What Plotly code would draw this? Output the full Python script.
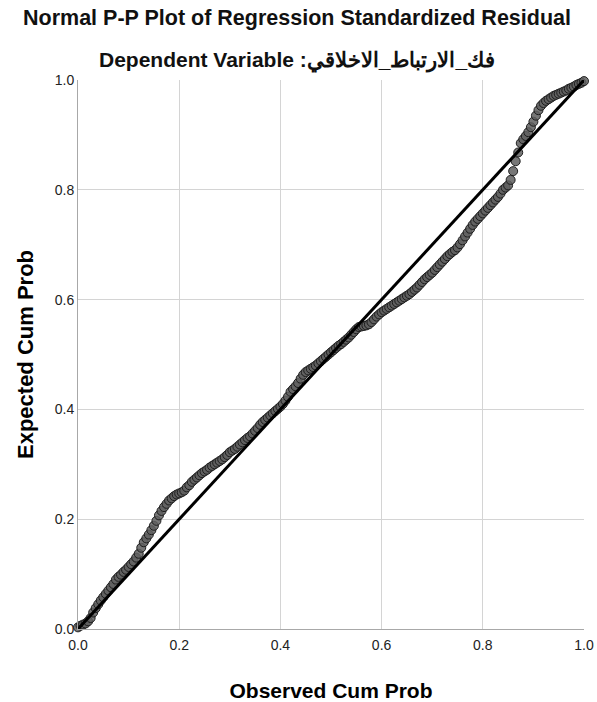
import plotly.graph_objects as go

observed_cum_prob = [
    0.000, 0.005, 0.010, 0.015, 0.020, 0.025, 0.030, 0.035, 0.040, 0.045,
    0.050, 0.055, 0.060, 0.065, 0.070, 0.075, 0.080, 0.085, 0.090, 0.095,
    0.100, 0.105, 0.110, 0.115, 0.120, 0.125, 0.130, 0.135, 0.140, 0.145,
    0.150, 0.155, 0.160, 0.165, 0.170, 0.175, 0.180, 0.185, 0.190, 0.195,
    0.200, 0.205, 0.210, 0.215, 0.220, 0.225, 0.230, 0.235, 0.240, 0.245,
    0.250, 0.255, 0.260, 0.265, 0.270, 0.275, 0.280, 0.285, 0.290, 0.295,
    0.300, 0.305, 0.310, 0.315, 0.320, 0.325, 0.330, 0.335, 0.340, 0.345,
    0.350, 0.355, 0.360, 0.365, 0.370, 0.375, 0.380, 0.385, 0.390, 0.395,
    0.400, 0.405, 0.410, 0.415, 0.420, 0.425, 0.430, 0.435, 0.440, 0.445,
    0.450, 0.455, 0.460, 0.465, 0.470, 0.475, 0.480, 0.485, 0.490, 0.495,
    0.500, 0.505, 0.510, 0.515, 0.520, 0.525, 0.530, 0.535, 0.540, 0.545,
    0.550, 0.555, 0.560, 0.565, 0.570, 0.575, 0.580, 0.585, 0.590, 0.595,
    0.600, 0.605, 0.610, 0.615, 0.620, 0.625, 0.630, 0.635, 0.640, 0.645,
    0.650, 0.655, 0.660, 0.665, 0.670, 0.675, 0.680, 0.685, 0.690, 0.695,
    0.700, 0.705, 0.710, 0.715, 0.720, 0.725, 0.730, 0.735, 0.740, 0.745,
    0.750, 0.755, 0.760, 0.765, 0.770, 0.775, 0.780, 0.785, 0.790, 0.795,
    0.800, 0.805, 0.810, 0.815, 0.820, 0.825, 0.830, 0.835, 0.840, 0.845,
    0.850, 0.855, 0.860, 0.865, 0.870, 0.875, 0.880, 0.885, 0.890, 0.895,
    0.900, 0.905, 0.910, 0.915, 0.920, 0.925, 0.930, 0.935, 0.940, 0.945,
    0.950, 0.955, 0.960, 0.965, 0.970, 0.975, 0.980, 0.985, 0.990, 0.995,
    1.000,
]

expected_cum_prob = [
    0.003, 0.006, 0.008, 0.010, 0.014, 0.020, 0.030, 0.038, 0.045, 0.052,
    0.058, 0.064, 0.070, 0.076, 0.082, 0.090, 0.095, 0.099, 0.104, 0.108,
    0.113, 0.118, 0.123, 0.130, 0.137, 0.148, 0.158, 0.165, 0.172, 0.180,
    0.188, 0.197, 0.207, 0.215, 0.222, 0.228, 0.234, 0.238, 0.242, 0.245,
    0.247, 0.249, 0.252, 0.258, 0.262, 0.268, 0.272, 0.276, 0.280, 0.284,
    0.287, 0.290, 0.294, 0.297, 0.300, 0.303, 0.306, 0.309, 0.313, 0.317,
    0.322, 0.325, 0.328, 0.332, 0.336, 0.340, 0.344, 0.348, 0.351, 0.356,
    0.361, 0.366, 0.372, 0.377, 0.381, 0.385, 0.389, 0.393, 0.397, 0.401,
    0.405, 0.410, 0.416, 0.423, 0.432, 0.437, 0.442, 0.448, 0.456, 0.463,
    0.468, 0.471, 0.474, 0.477, 0.480, 0.484, 0.488, 0.492, 0.496, 0.500,
    0.504, 0.508, 0.512, 0.516, 0.519, 0.523, 0.527, 0.531, 0.536, 0.541,
    0.546, 0.550, 0.551, 0.552, 0.553, 0.555, 0.559, 0.564, 0.569, 0.573,
    0.577, 0.580, 0.583, 0.586, 0.589, 0.592, 0.595, 0.598, 0.601, 0.604,
    0.607, 0.610, 0.614, 0.618, 0.622, 0.627, 0.632, 0.637, 0.641, 0.645,
    0.649, 0.654, 0.659, 0.664, 0.669, 0.674, 0.679, 0.683, 0.687, 0.690,
    0.695, 0.701, 0.708, 0.715, 0.722, 0.729, 0.736, 0.742, 0.747, 0.752,
    0.757, 0.762, 0.767, 0.772, 0.777, 0.782, 0.787, 0.793, 0.800, 0.804,
    0.808, 0.818, 0.834, 0.852, 0.868, 0.885, 0.892, 0.898, 0.905, 0.914,
    0.924, 0.935, 0.945, 0.953, 0.958, 0.962, 0.965, 0.968, 0.971, 0.973,
    0.975, 0.977, 0.979, 0.981, 0.984, 0.986, 0.988, 0.991, 0.993, 0.995,
    0.998,
]

diag_x = [0.0, 1.0]
diag_y = [0.0, 1.0]
tick_vals = [0.0, 0.2, 0.4, 0.6, 0.8, 1.0]
tick_text = ["0.0", "0.2", "0.4", "0.6", "0.8", "1.0"]

FONT = "Liberation Sans, Arial, sans-serif"

fig = go.Figure()
fig.add_trace(go.Scatter(
    x=observed_cum_prob, y=expected_cum_prob, mode="markers",
    marker=dict(size=9, color="rgba(95,95,95,0.85)",
                line=dict(color="rgba(25,25,25,0.95)", width=1)),
    cliponaxis=False, showlegend=False,
))
fig.add_trace(go.Scatter(
    x=diag_x, y=diag_y, mode="lines",
    line=dict(color="black", width=3),
    cliponaxis=False, showlegend=False,
))

fig.update_layout(
    width=597, height=702,
    margin=dict(l=78, r=13, t=80, b=73),
    paper_bgcolor="white", plot_bgcolor="white",
    font=dict(family=FONT, color="#000"),
    annotations=[
        dict(text="<b>Normal P-P Plot of Regression Standardized Residual</b>",
             xref="paper", yref="paper", x=0.433, y=1, yshift=62,
             xanchor="center", yanchor="middle", showarrow=False,
             font=dict(size=21.5, family=FONT, color="#111")),
        dict(text="<b>Dependent Variable :فك_الارتباط_الاخلاقي</b>",
             xref="paper", yref="paper", x=0.433, y=1, yshift=20,
             xanchor="center", yanchor="middle", showarrow=False,
             font=dict(size=21, family=FONT, color="#111")),
    ],
)
fig.update_xaxes(
    range=[0, 1], tickvals=tick_vals, ticktext=tick_text,
    showgrid=True, gridcolor="#d4d4d4", gridwidth=1,
    showline=True, linecolor="#a8a8a8", linewidth=1, mirror=False,
    zeroline=False, ticks="", ticklabelstandoff=3,
    tickfont=dict(size=14, family=FONT, color="#222"),
    title=dict(text="<b>Observed Cum Prob</b>", font=dict(size=21, family=FONT),
               standoff=31),
    automargin=False,
)
fig.update_yaxes(
    range=[0, 1], tickvals=tick_vals, ticktext=tick_text,
    showgrid=True, gridcolor="#d4d4d4", gridwidth=1,
    showline=True, linecolor="#a8a8a8", linewidth=1, mirror=False,
    zeroline=False, ticks="",
    tickfont=dict(size=14, family=FONT, color="#222"),
    title=dict(text="<b>Expected Cum Prob</b>", font=dict(size=22, family=FONT),
               standoff=15),
    automargin=False,
)

fig.write_html("out.html",
               config={"displayModeBar": False},
               post_script="document.body.style.margin='0';document.body.style.overflow='hidden';")
